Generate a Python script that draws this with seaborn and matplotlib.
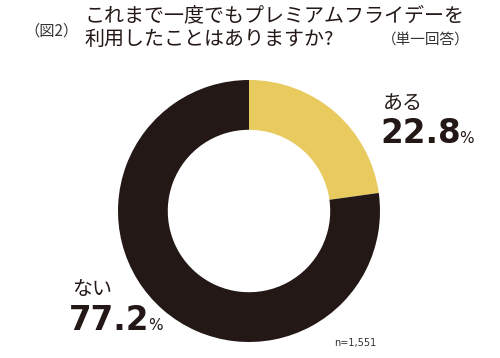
import matplotlib
matplotlib.use("Agg")
import matplotlib.pyplot as plt
import seaborn as sns

# data
labels = ["ある", "ない"]
shares = [22.8, 77.2]
colors = ["#E8CA5E", "#231815"]
title_lines = ["これまで一度でもプレミアムフライデーを", "利用したことはありますか?"]
fig_tag = "（図2）"
answer_note = "（単一回答）"
sample_note = "n=1,551"

W, H = 500, 358
ink = "#231815"

sns.set_theme(style="white")
plt.rcParams["font.family"] = ["Noto Sans CJK JP", "DejaVu Sans"]

fig = plt.figure(figsize=(W / 100, H / 100), dpi=100)
fig.patch.set_facecolor("white")


def px(x, y):
    # pixel position (from top-left) -> figure fraction
    return x / W, 1 - y / H


# donut
ax = fig.add_axes([118 / W, 1 - 342 / H, 262 / W, 262 / H])
ax.pie(
    shares,
    colors=colors,
    startangle=90,
    counterclock=False,
    radius=1,
    wedgeprops=dict(width=0.38, edgecolor="none"),
)
ax.set_xlim(-1, 1)
ax.set_ylim(-1, 1)
ax.axis("off")

# title block (fullwidth brackets carry blank space on their outer side)
fig.text(*px(24, 31), fig_tag, fontsize=11, color="#333333", va="center")
fig.text(*px(84, 16), title_lines[0], fontsize=14.4, color=ink, va="center")
fig.text(*px(84, 39), title_lines[1], fontsize=14.4, color=ink, va="center")
fig.text(*px(382, 40), answer_note, fontsize=10.5, color="#333333", va="center")

# category name, big percentage and a small "%" after it
renderer = fig.canvas.get_renderer()
for (x, y_name, y_num), name, share in zip(
        [(383, 103, 143), (72, 290, 330)], labels, shares):
    fig.text(*px(x, y_name), name, fontsize=14.4, color=ink, va="center")
    num = fig.text(*px(x - 3, y_num), f"{share}", fontsize=23.5,
                   fontfamily="DejaVu Sans", fontweight="bold",
                   color=ink, va="baseline")
    bb = num.get_window_extent(renderer)
    fig.text((bb.x1 - 1) / W, 1 - y_num / H, "%", fontsize=11,
             fontfamily="DejaVu Sans", color=ink, va="baseline")

fig.text(*px(334, 343), sample_note, fontsize=7, fontfamily="DejaVu Sans",
         color="#333333", va="center")

fig.savefig("out.png", dpi=100, facecolor="white")
